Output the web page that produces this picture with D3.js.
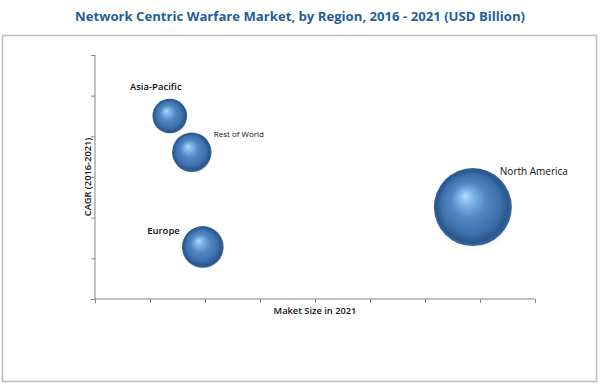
<!DOCTYPE html>
<html><head><meta charset="utf-8">
<script src="https://cdn.jsdelivr.net/npm/d3@7"></script>
<style>html,body{margin:0;padding:0;background:#fff;}svg{display:block;}</style>
</head><body>
<svg id="chart" width="600" height="386"></svg>
<script>
const regions = ["Asia-Pacific", "Rest of World", "Europe", "North America"];
const marketSize = [1.36, 1.76, 1.96, 6.87];
const cagr = [4.5, 3.61, 1.28, 2.26];
const xTicks = [0,1,2,3,4,5,6,7,8];
const yTicks = [0,1,2,3,4,5,6];
const title = "Network Centric Warfare Market, by Region, 2016 - 2021 (USD Billion)";
const xTitle = "Maket Size in 2021";
const yTitle = "CAGR (2016-2021)";

const svg = d3.select("#chart");
const font = "'Open Sans', 'Noto Sans', sans-serif";

// title
svg.append("text").attr("x", 300).attr("y", 21).attr("text-anchor", "middle")
  .attr("font-family", font).attr("font-weight", "bold").attr("font-size", 12.5)
  .attr("fill", "#1f5f99").attr("textLength", 450).attr("lengthAdjust", "spacingAndGlyphs")
  .text(title);

// frame
svg.append("rect").attr("x", 2.5).attr("y", 35.5).attr("width", 594).attr("height", 346)
  .attr("fill", "none").attr("stroke", "#bfbfbf").attr("stroke-width", 1.6);

const x = d3.scaleLinear().domain([0, 8]).range([95, 535]);
const y = d3.scaleLinear().domain([0, 6]).range([299, 55]);
const r = d3.scaleSqrt().domain([0, 8]).range([0, 42.1]);

const defs = svg.append("defs");
const grad = defs.append("radialGradient").attr("id", "sphere")
  .attr("cx", "0.5").attr("cy", "0.5").attr("r", "0.5").attr("fx", "0.4").attr("fy", "0.35");
[[0, "#b2dbff"], [0.18, "#82b5ea"], [0.45, "#5287c4"], [0.75, "#3e70ab"], [0.92, "#2a578b"], [1, "#3a6aa2"]]
  .forEach(([o, c]) => grad.append("stop").attr("offset", o).attr("stop-color", c));
const sh = defs.append("radialGradient").attr("id", "shadow");
sh.append("stop").attr("offset", 0).attr("stop-color", "#c8c8c8").attr("stop-opacity", 0.5);
sh.append("stop").attr("offset", 1).attr("stop-color", "#ffffff").attr("stop-opacity", 0);

// axes
const xAxis = d3.axisBottom(x).tickValues(xTicks).tickSize(4).tickFormat("");
const gx = svg.append("g").attr("transform", "translate(0,299)").call(xAxis);
const yAxis = d3.axisLeft(y).tickValues(yTicks).tickSize(4).tickFormat("");
const gy = svg.append("g").attr("transform", "translate(95,0)").call(yAxis);
[gx, gy].forEach(g => {
  g.select(".domain").attr("stroke", "#868686").attr("stroke-width", 1);
  g.selectAll(".tick line").attr("stroke", "#868686");
});
gy.select(".domain").attr("d", "M0,299V55");
gx.select(".domain").attr("d", "M95,0H535");

svg.append("text").attr("x", 315).attr("y", 314).attr("text-anchor", "middle")
  .attr("font-family", font).attr("font-weight", 600).attr("font-size", 9.3).attr("fill", "#111")
  .text(xTitle);
svg.append("text").attr("transform", "translate(91,177) rotate(-90)").attr("text-anchor", "middle")
  .attr("font-family", font).attr("font-weight", 600).attr("font-size", 9.3).attr("fill", "#111")
  .text(yTitle);

const data = regions.map((name, i) => ({name, size: marketSize[i], cagr: cagr[i]}));

// shadows
svg.append("g").selectAll("ellipse").data(data).join("ellipse")
  .attr("cx", d => x(d.size)).attr("cy", d => y(d.cagr) + r(d.size) * 0.9)
  .attr("rx", d => r(d.size) * 1.0).attr("ry", d => r(d.size) * 0.25)
  .attr("fill", "url(#shadow)");

svg.append("g").selectAll("circle").data(data).join("circle")
  .attr("cx", d => x(d.size)).attr("cy", d => y(d.cagr)).attr("r", d => r(d.size))
  .attr("fill", "url(#sphere)");

// labels
const labelPos = {
  "Asia-Pacific": {dx: -14, dy: -26, anchor: "middle", size: 9.5, weight: 600},
  "Rest of World": {dx: 22, dy: -15, anchor: "start", size: 8, weight: 400},
  "Europe": {dx: -23, dy: -13, anchor: "end", size: 9.5, weight: 600},
  "North America": {dx: 27, dy: -32, anchor: "start", size: 10, weight: 500}
};
svg.append("g").selectAll("text").data(data).join("text")
  .attr("x", d => x(d.size) + labelPos[d.name].dx)
  .attr("y", d => y(d.cagr) + labelPos[d.name].dy)
  .attr("text-anchor", d => labelPos[d.name].anchor)
  .attr("font-family", font).attr("font-size", d => labelPos[d.name].size)
  .attr("font-weight", d => labelPos[d.name].weight).attr("fill", "#111")
  .text(d => d.name);
</script>
</body></html>
